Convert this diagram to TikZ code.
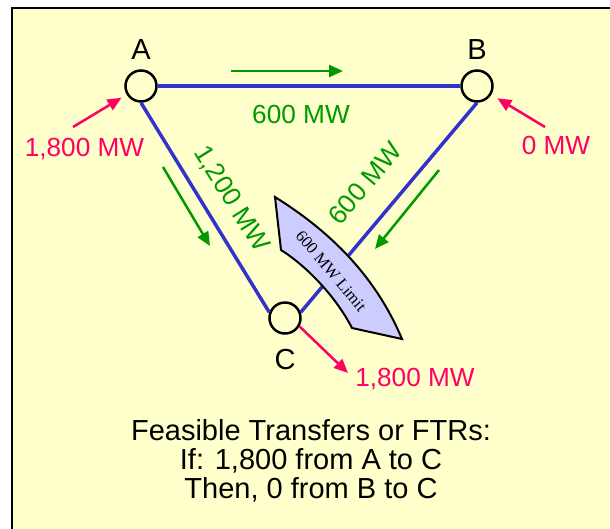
\documentclass[tikz,border=0pt]{standalone}
\usepackage{fontspec}
\setmainfont{Liberation Sans}
\newfontfamily\limitfont{Liberation Serif}
\usetikzlibrary{positioning, arrows.meta}
\definecolor{paper}{HTML}{FFFFCC}
\definecolor{lineblue}{HTML}{3333CC}
\definecolor{flowgreen}{HTML}{009900}
\definecolor{injpink}{HTML}{FF0066}
\definecolor{limitfill}{HTML}{CCCCFF}

\begin{document}
\begin{tikzpicture}[
    x=1pt, y=-1pt,
    bus/.style={
      draw, circle, line width=2.5pt, minimum size=31pt, inner sep=0pt
    },
    buslab/.style={font=\fontsize{29}{29}\selectfont, inner sep=0pt},
    tie/.style={lineblue, line width=3.5pt},
    flow/.style={flowgreen, line width=2.5pt, -{Triangle[length=14pt, width=12pt]}},
    flowlab/.style={text=flowgreen, font=\fontsize{26.2}{26.2}\selectfont, inner sep=0pt},
    inj/.style={injpink, line width=2.5pt, -{Triangle[length=14pt, width=12pt]}},
    injlab/.style={text=injpink, font=\fontsize{26.2}{26.2}\selectfont, inner sep=0pt},
  ]
    \useasboundingbox (0,0) rectangle (610,528);
    \fill[white] (0,0) rectangle (610,528);
    \draw[fill=paper, line width=2pt] (12,8) rectangle (640,560);

    % buses
    \node[bus] (A) at (141,86) {};
    \node[bus] (B) at (477,86) {};
    \node[bus] (C) at (285,318) {};
    \node[buslab, above=9.5pt of A] (labA) {A};
    \node[buslab, above=9.5pt of B] (labB) {B};
    \node[buslab, below=14pt of C] (labC) {C};

    \draw[tie] (A) -- (B);
    \draw[tie] (A.south) -- (C.160);
    \draw[tie] (B.south) -- (C.20);

    % limit marker
    \draw[fill=limitfill, line width=2pt, line join=miter]
      (275,197) .. controls (323,227) and (373,270) .. (402,339)
      -- (352,328) .. controls (335,295) and (305,265) .. (281,250) -- cycle;
    \node[rotate=-50, inner sep=0pt, font=\limitfont\fontsize{16.5}{16.5}\selectfont]
      (limit) at (331,271) {600 MW Limit};

    % flows
    \coordinate (ab1) at (231,71);
    \coordinate (ab2) at (343,71);
    \coordinate (ac1) at (163,167);
    \coordinate (ac2) at (210,246);
    \coordinate (bc1) at (439,170);
    \coordinate (bc2) at (375,249);
    \draw[flow] (ab1) -- (ab2);
    \draw[flow] (ac1) -- (ac2);
    \draw[flow] (bc1) -- (bc2);
    \node[flowlab] (fAB) at (301,114) {600 MW};
    \node[flowlab, rotate=-58] (fAC) at (231,199) {1,200 MW};
    \node[flowlab, rotate=50] (fBC) at (365,183) {600 MW};

    % injections
    \coordinate (inA) at (73,127);
    \coordinate (inB) at (545,127);
    \coordinate (outC) at (348,373);
    \draw[inj, shorten >=6pt] (inA) -- (A);
    \draw[inj, shorten >=7pt] (inB) -- (B);
    \draw[inj] (C.-30) -- (outC);
    \node[injlab] (gA) at (84.5,149) {1,800 MW};
    \node[injlab] (gB) at (556,145) {0 MW};
    \node[injlab] (dC) at (415,379) {1,800 MW};

    \node[align=center, font=\fontsize{29}{29}\selectfont] (ftr) at (311,461)
      {Feasible Transfers or FTRs:\\If: 1,800 from A to C\\Then, 0 from B to C};
  \end{tikzpicture}
\end{document}
